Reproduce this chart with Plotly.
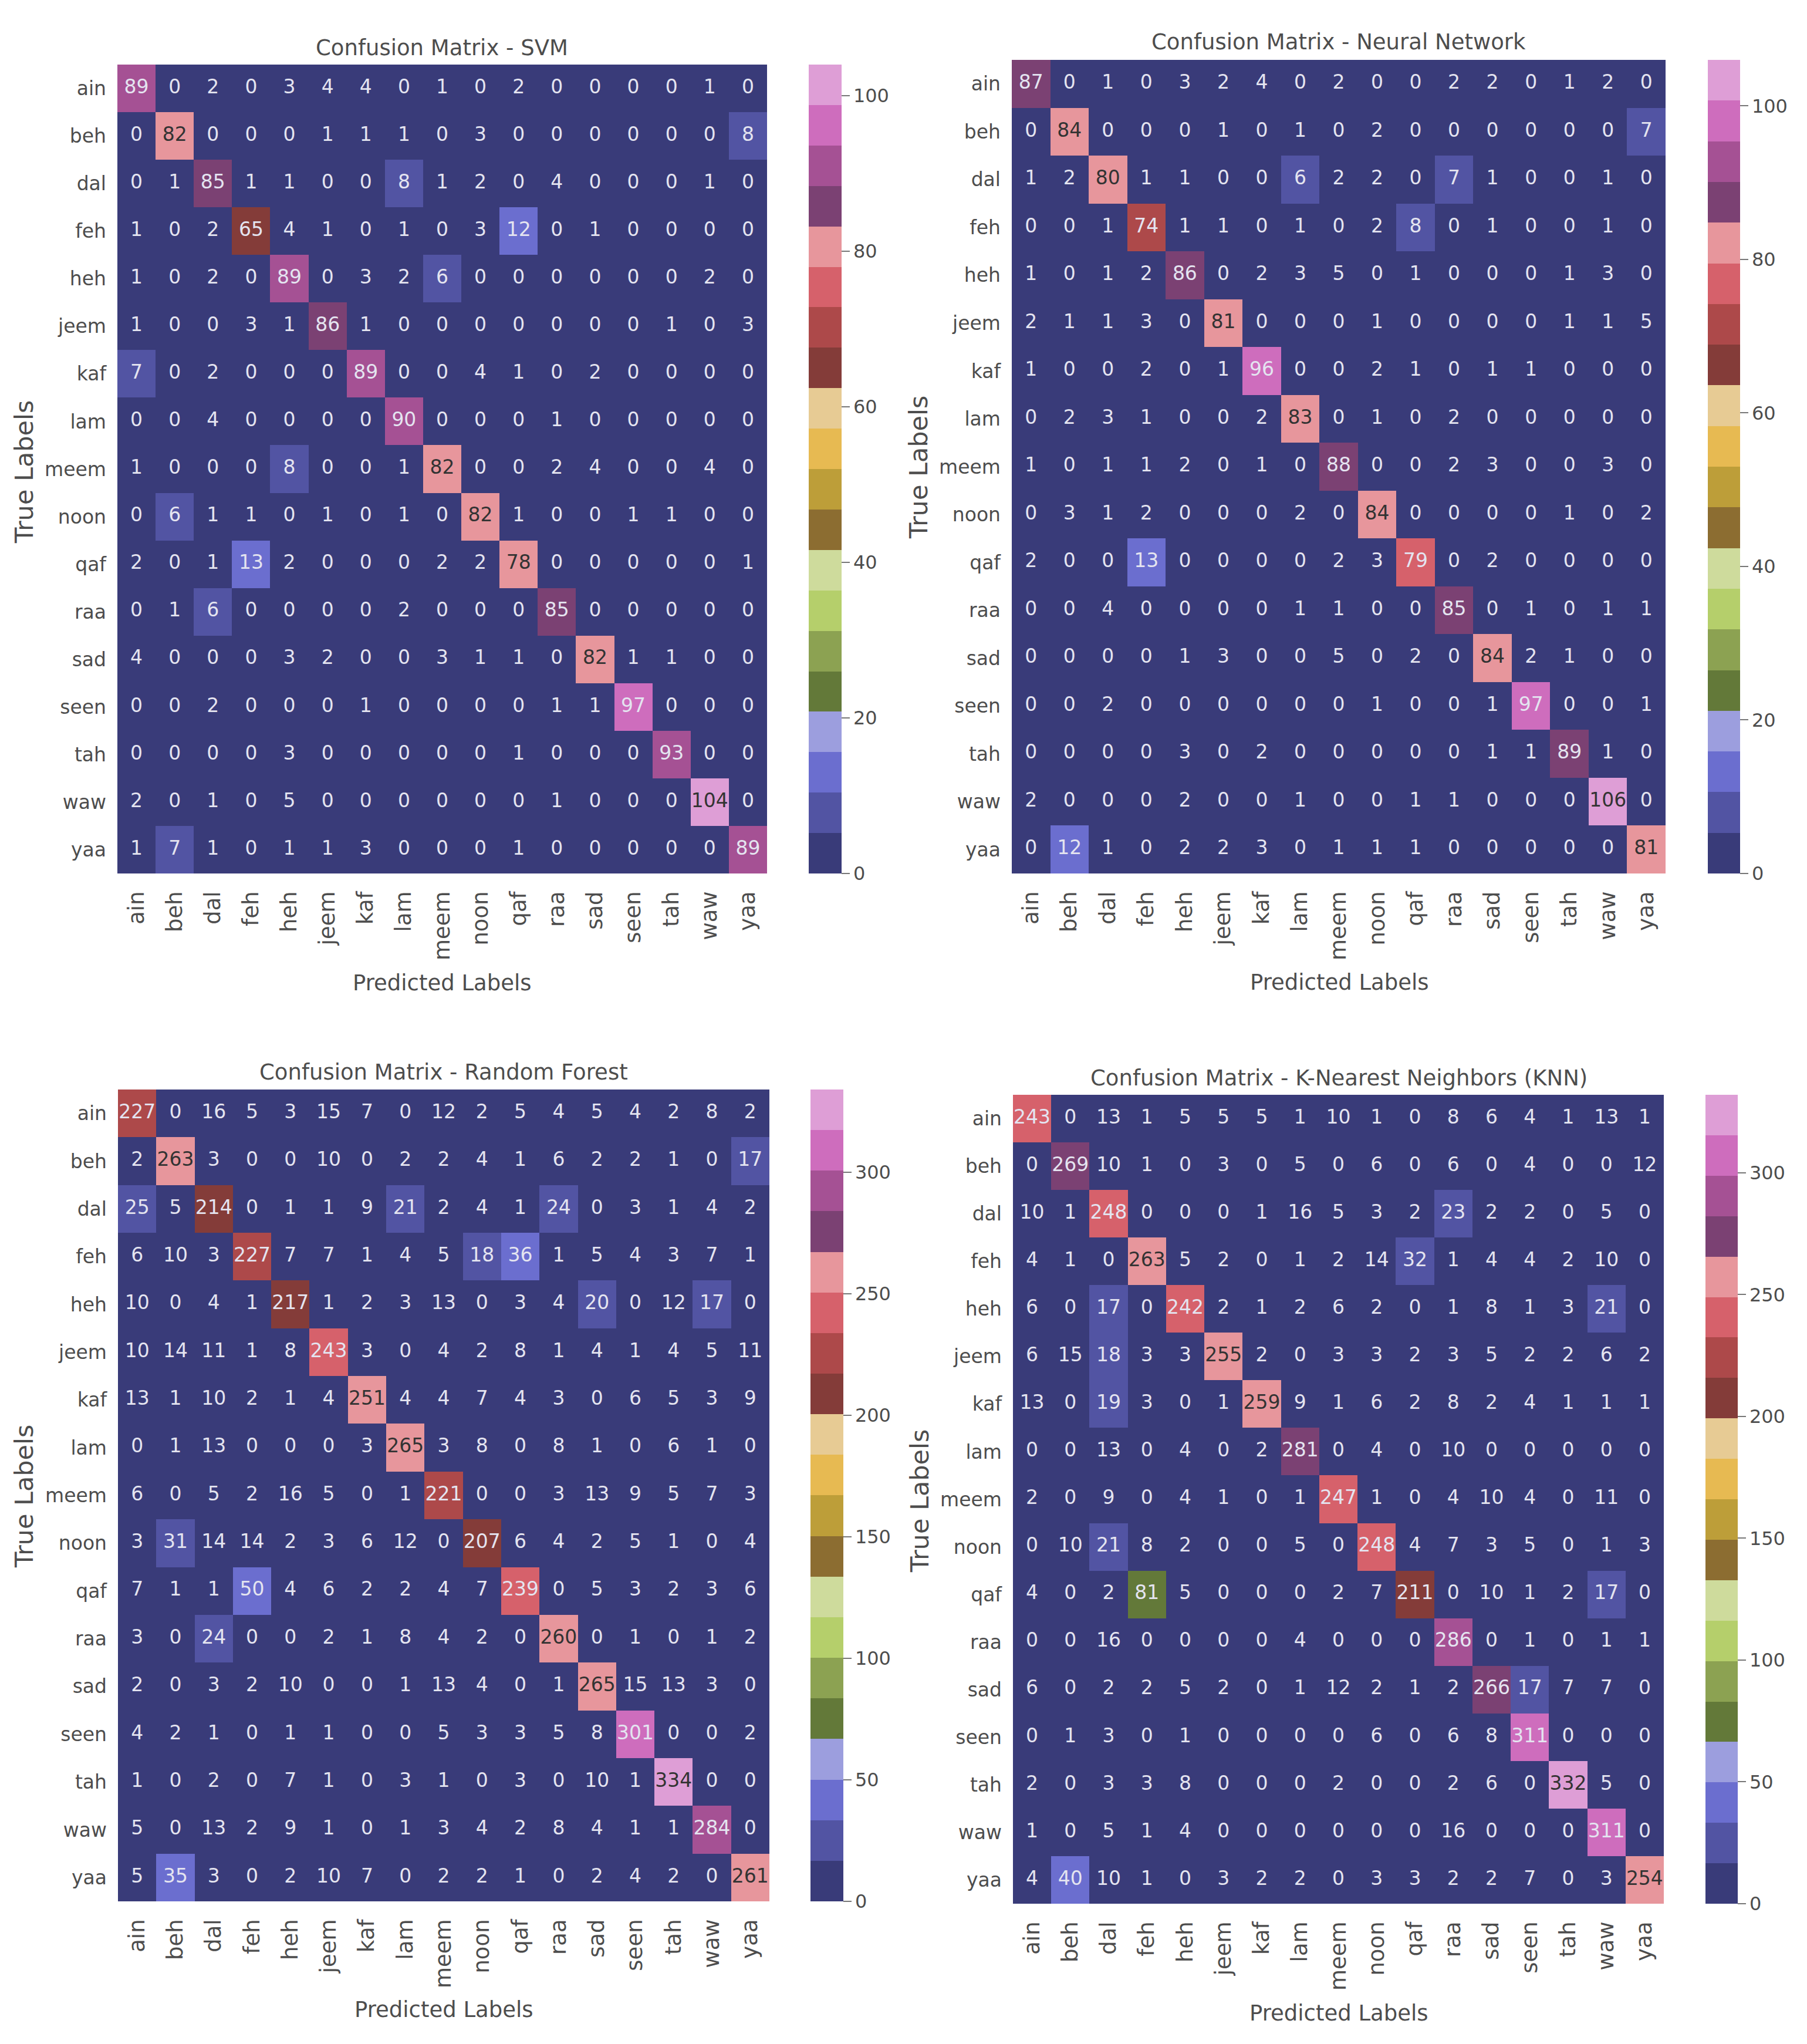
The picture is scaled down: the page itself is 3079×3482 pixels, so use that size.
import plotly.graph_objects as go

labels = ["ain","beh","dal","feh","heh","jeem","kaf","lam","meem","noon","qaf","raa","sad","seen","tah","waw","yaa"]

svm = [
[89,0,2,0,3,4,4,0,1,0,2,0,0,0,0,1,0],
[0,82,0,0,0,1,1,1,0,3,0,0,0,0,0,0,8],
[0,1,85,1,1,0,0,8,1,2,0,4,0,0,0,1,0],
[1,0,2,65,4,1,0,1,0,3,12,0,1,0,0,0,0],
[1,0,2,0,89,0,3,2,6,0,0,0,0,0,0,2,0],
[1,0,0,3,1,86,1,0,0,0,0,0,0,0,1,0,3],
[7,0,2,0,0,0,89,0,0,4,1,0,2,0,0,0,0],
[0,0,4,0,0,0,0,90,0,0,0,1,0,0,0,0,0],
[1,0,0,0,8,0,0,1,82,0,0,2,4,0,0,4,0],
[0,6,1,1,0,1,0,1,0,82,1,0,0,1,1,0,0],
[2,0,1,13,2,0,0,0,2,2,78,0,0,0,0,0,1],
[0,1,6,0,0,0,0,2,0,0,0,85,0,0,0,0,0],
[4,0,0,0,3,2,0,0,3,1,1,0,82,1,1,0,0],
[0,0,2,0,0,0,1,0,0,0,0,1,1,97,0,0,0],
[0,0,0,0,3,0,0,0,0,0,1,0,0,0,93,0,0],
[2,0,1,0,5,0,0,0,0,0,0,1,0,0,0,104,0],
[1,7,1,0,1,1,3,0,0,0,1,0,0,0,0,0,89],
]
neural_network = [
[87,0,1,0,3,2,4,0,2,0,0,2,2,0,1,2,0],
[0,84,0,0,0,1,0,1,0,2,0,0,0,0,0,0,7],
[1,2,80,1,1,0,0,6,2,2,0,7,1,0,0,1,0],
[0,0,1,74,1,1,0,1,0,2,8,0,1,0,0,1,0],
[1,0,1,2,86,0,2,3,5,0,1,0,0,0,1,3,0],
[2,1,1,3,0,81,0,0,0,1,0,0,0,0,1,1,5],
[1,0,0,2,0,1,96,0,0,2,1,0,1,1,0,0,0],
[0,2,3,1,0,0,2,83,0,1,0,2,0,0,0,0,0],
[1,0,1,1,2,0,1,0,88,0,0,2,3,0,0,3,0],
[0,3,1,2,0,0,0,2,0,84,0,0,0,0,1,0,2],
[2,0,0,13,0,0,0,0,2,3,79,0,2,0,0,0,0],
[0,0,4,0,0,0,0,1,1,0,0,85,0,1,0,1,1],
[0,0,0,0,1,3,0,0,5,0,2,0,84,2,1,0,0],
[0,0,2,0,0,0,0,0,0,1,0,0,1,97,0,0,1],
[0,0,0,0,3,0,2,0,0,0,0,0,1,1,89,1,0],
[2,0,0,0,2,0,0,1,0,0,1,1,0,0,0,106,0],
[0,12,1,0,2,2,3,0,1,1,1,0,0,0,0,0,81],
]
random_forest = [
[227,0,16,5,3,15,7,0,12,2,5,4,5,4,2,8,2],
[2,263,3,0,0,10,0,2,2,4,1,6,2,2,1,0,17],
[25,5,214,0,1,1,9,21,2,4,1,24,0,3,1,4,2],
[6,10,3,227,7,7,1,4,5,18,36,1,5,4,3,7,1],
[10,0,4,1,217,1,2,3,13,0,3,4,20,0,12,17,0],
[10,14,11,1,8,243,3,0,4,2,8,1,4,1,4,5,11],
[13,1,10,2,1,4,251,4,4,7,4,3,0,6,5,3,9],
[0,1,13,0,0,0,3,265,3,8,0,8,1,0,6,1,0],
[6,0,5,2,16,5,0,1,221,0,0,3,13,9,5,7,3],
[3,31,14,14,2,3,6,12,0,207,6,4,2,5,1,0,4],
[7,1,1,50,4,6,2,2,4,7,239,0,5,3,2,3,6],
[3,0,24,0,0,2,1,8,4,2,0,260,0,1,0,1,2],
[2,0,3,2,10,0,0,1,13,4,0,1,265,15,13,3,0],
[4,2,1,0,1,1,0,0,5,3,3,5,8,301,0,0,2],
[1,0,2,0,7,1,0,3,1,0,3,0,10,1,334,0,0],
[5,0,13,2,9,1,0,1,3,4,2,8,4,1,1,284,0],
[5,35,3,0,2,10,7,0,2,2,1,0,2,4,2,0,261],
]
knn = [
[243,0,13,1,5,5,5,1,10,1,0,8,6,4,1,13,1],
[0,269,10,1,0,3,0,5,0,6,0,6,0,4,0,0,12],
[10,1,248,0,0,0,1,16,5,3,2,23,2,2,0,5,0],
[4,1,0,263,5,2,0,1,2,14,32,1,4,4,2,10,0],
[6,0,17,0,242,2,1,2,6,2,0,1,8,1,3,21,0],
[6,15,18,3,3,255,2,0,3,3,2,3,5,2,2,6,2],
[13,0,19,3,0,1,259,9,1,6,2,8,2,4,1,1,1],
[0,0,13,0,4,0,2,281,0,4,0,10,0,0,0,0,0],
[2,0,9,0,4,1,0,1,247,1,0,4,10,4,0,11,0],
[0,10,21,8,2,0,0,5,0,248,4,7,3,5,0,1,3],
[4,0,2,81,5,0,0,0,2,7,211,0,10,1,2,17,0],
[0,0,16,0,0,0,0,4,0,0,0,286,0,1,0,1,1],
[6,0,2,2,5,2,0,1,12,2,1,2,266,17,7,7,0],
[0,1,3,0,1,0,0,0,0,6,0,6,8,311,0,0,0],
[2,0,3,3,8,0,0,0,2,0,0,2,6,0,332,5,0],
[1,0,5,1,4,0,0,0,0,0,0,16,0,0,0,311,0],
[4,40,10,1,0,3,2,2,0,3,3,2,2,7,0,3,254],
]

tab20b = ["#393b79","#5254a3","#6b6ecf","#9c9ede","#637939","#8ca252","#b5cf6b","#cedb9c",
          "#8c6d31","#bd9e39","#e7ba52","#e7cb94","#843c39","#ad494a","#d6616b","#e7969c",
          "#7b4173","#a55194","#ce6dbd","#de9ed6"]

W, H = 3079, 3482
FONT = "DejaVu Sans"
GREY = "#4d4d4d"

colorscale = []
for i, c in enumerate(tab20b):
    colorscale += [[i / 20, c], [(i + 1) / 20, c]]


def luminance(hex_color):
    rgb = [int(hex_color[k:k + 2], 16) / 255 for k in (1, 3, 5)]
    rgb = [v / 12.92 if v <= 0.03928 else ((v + 0.055) / 1.055) ** 2.4 for v in rgb]
    return 0.2126 * rgb[0] + 0.7152 * rgb[1] + 0.0722 * rgb[2]


def text_color(v, vmax):
    c = tab20b[min(int(v / vmax * 20), 19)]
    return "#333333" if luminance(c) > 0.408 else "#e4e4f0"


panels = [
    dict(name="SVM", z=svm, box=(200, 1307, 110, 1488), cb=(1378, 1434), title=(753, 81), xt=(753, 1674), yt=(41, 804), tick=20),
    dict(name="Neural Network", z=neural_network, box=(1724, 2838, 102, 1488), cb=(2910, 2965), title=(2281, 72), xt=(2282, 1673), yt=(1565, 796), tick=20),
    dict(name="Random Forest", z=random_forest, box=(201, 1311, 1856, 3239), cb=(1381, 1437), title=(756, 1826), xt=(756, 3423), yt=(41, 2549), tick=50),
    dict(name="K-Nearest Neighbors (KNN)", z=knn, box=(1726, 2835, 1865, 3243), cb=(2906, 2961), title=(2281, 1836), xt=(2281, 3429), yt=(1567, 2557), tick=50),
]

fig = go.Figure()
layout = {}
annotations = []

for i, p in enumerate(panels):
    n = "" if i == 0 else str(i + 1)
    x0, x1, y0, y1 = p["box"]
    vmax = max(max(r) for r in p["z"])
    fig.add_trace(go.Heatmap(
        z=p["z"], x=labels, y=labels, xaxis="x" + n, yaxis="y" + n,
        colorscale=colorscale, zmin=0, zmax=vmax, xgap=0, ygap=0,
        hoverinfo="skip",
        colorbar=dict(
            x=p["cb"][0] / W, xanchor="left", xref="paper",
            y=1 - y1 / H, yanchor="bottom", yref="paper",
            len=(y1 - y0) / H, lenmode="fraction",
            thickness=p["cb"][1] - p["cb"][0], thicknessmode="pixels",
            outlinewidth=0, borderwidth=0, xpad=0, ypad=0,
            tick0=0, dtick=p["tick"], ticks="outside", ticklen=14, tickwidth=2, tickcolor="#777777",
            tickfont=dict(family=FONT, size=32, color=GREY),
        ),
    ))
    xs, ys, txt, cols = [], [], [], []
    for r, row in enumerate(p["z"]):
        for c, v in enumerate(row):
            xs.append(labels[c]); ys.append(labels[r]); txt.append(str(v)); cols.append(text_color(v, vmax))
    fig.add_trace(go.Scatter(
        x=xs, y=ys, text=txt, mode="text", xaxis="x" + n, yaxis="y" + n,
        textposition="middle center", cliponaxis=False, hoverinfo="skip", showlegend=False,
        textfont=dict(family=FONT, size=33, color=cols),
    ))
    layout["xaxis" + n] = dict(
        domain=[x0 / W, x1 / W], anchor="y" + n, type="category", categoryorder="array", categoryarray=labels,
        range=[-0.5, 16.5], tickmode="array", tickvals=labels, ticktext=labels, tickangle=-90,
        tickfont=dict(family=FONT, size=37, color=GREY), ticks="", ticklabelstandoff=22,
        showgrid=False, zeroline=False, showline=False,
    )
    layout["yaxis" + n] = dict(
        domain=[1 - y1 / H, 1 - y0 / H], anchor="x" + n, type="category", categoryorder="array", categoryarray=labels,
        range=[16.5, -0.5], tickmode="array", tickvals=labels, ticktext=labels,
        tickfont=dict(family=FONT, size=33, color=GREY), ticks="", ticklabelstandoff=18,
        showgrid=False, zeroline=False, showline=False,
    )
    for text, (px, py), angle, size in [
        ("Confusion Matrix - " + p["name"], p["title"], 0, 37),
        ("Predicted Labels", p["xt"], 0, 37),
        ("True Labels", p["yt"], -90, 43),
    ]:
        annotations.append(dict(
            text=text, x=px / W, y=1 - py / H, xref="paper", yref="paper",
            xanchor="center", yanchor="middle", showarrow=False, textangle=angle,
            font=dict(family=FONT, size=size, color=GREY),
        ))

fig.update_layout(
    width=W, height=H, margin=dict(l=0, r=0, t=0, b=0, pad=0),
    paper_bgcolor="white", plot_bgcolor="white", showlegend=False,
    annotations=annotations, **layout,
)
fig.write_html("out.html", config={"displayModeBar": False}, post_script="document.body.style.margin='0';")
